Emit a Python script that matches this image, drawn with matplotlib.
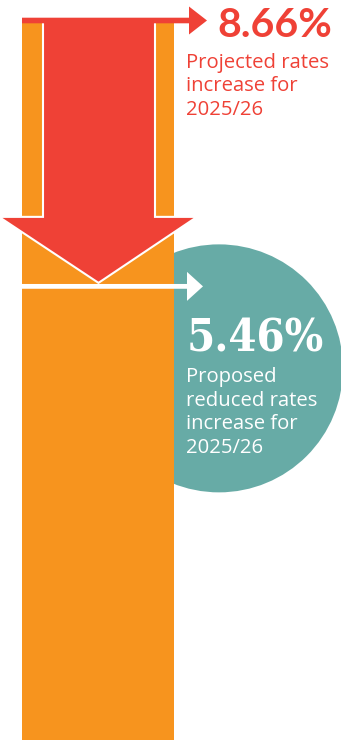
import matplotlib.pyplot as plt
from matplotlib.patches import Polygon, Ellipse

# values shown in the graphic (percentage rate increases)
labels = ['8.66%', '5.46%']
rates = [8.66, 5.46]
caption_projected = ['Projected rates', 'increase for', '2025/26']
caption_proposed = ['Proposed', 'reduced rates', 'increase for', '2025/26']

orange = '#F7941E'
red = '#EF4136'
teal = '#67ABA6'

W, H = 341, 742
base_px = 740                        # pixel row of the zero line
ppu = (base_px - 20.5) / rates[0]    # pixels per percentage point


def px(n):
    # vertical pixels -> rate units
    return n / ppu


fig = plt.figure(figsize=(W / 100, H / 100), dpi=100)
ax = fig.add_axes([0, 0, 1, 1])
ax.set_xlim(0, W)
ax.set_ylim(-px(H - base_px), px(base_px))
ax.axis('off')

# teal disc behind the bar
ax.add_patch(Ellipse((219, rates[1] - px(82)), 248, px(248), color=teal, lw=0, zorder=1))

# orange bar up to the projected rate
ax.bar(98, rates[0], width=152, color=orange, zorder=2)


def right_arrow(y, x0, x1, tip, half_t, half_h, color):
    pts = [(x0, y + px(half_t)), (x1, y + px(half_t)), (x1, y + px(half_h)), (tip, y),
           (x1, y - px(half_h)), (x1, y - px(half_t)), (x0, y - px(half_t))]
    ax.add_patch(Polygon(pts, closed=True, facecolor=color, lw=0, zorder=5))


# big red down arrow from projected to proposed rate
tip = rates[1] + px(3.5)
hb = tip + px(66)
down = [(43, rates[0]), (155, rates[0]), (155, hb), (197, hb), (98.5, tip), (-1, hb), (43, hb)]
ax.add_patch(Polygon(down, closed=True, facecolor=red, edgecolor='white', lw=1.5, zorder=4))

right_arrow(rates[0], 22, 189, 207, 2.8, 14, red)
right_arrow(rates[1], 22, 187, 203, 2.4, 14.5, 'white')

# labels
ax.text(217, rates[0] - px(16.5), labels[0], color=red, fontsize=29.5, fontweight='bold',
        family='Lato', ha='left', va='baseline', zorder=6)
for i, line in enumerate(caption_projected):
    ax.text(186, rates[0] - px(47.5 + 23.3 * i), line, color=red, fontsize=14.6,
            family='Open Sans', ha='left', va='baseline', zorder=6)

ax.text(187, rates[1] - px(65.5), labels[1], color='white', fontsize=32.5, fontweight='bold',
        family='DejaVu Serif', fontstretch='condensed', ha='left', va='baseline', zorder=6)
for i, line in enumerate(caption_proposed):
    ax.text(186, rates[1] - px(95.5 + 23.7 * i), line, color='white', fontsize=14.6,
            family='Open Sans', ha='left', va='baseline', zorder=6)

fig.savefig('out.png', dpi=100)
